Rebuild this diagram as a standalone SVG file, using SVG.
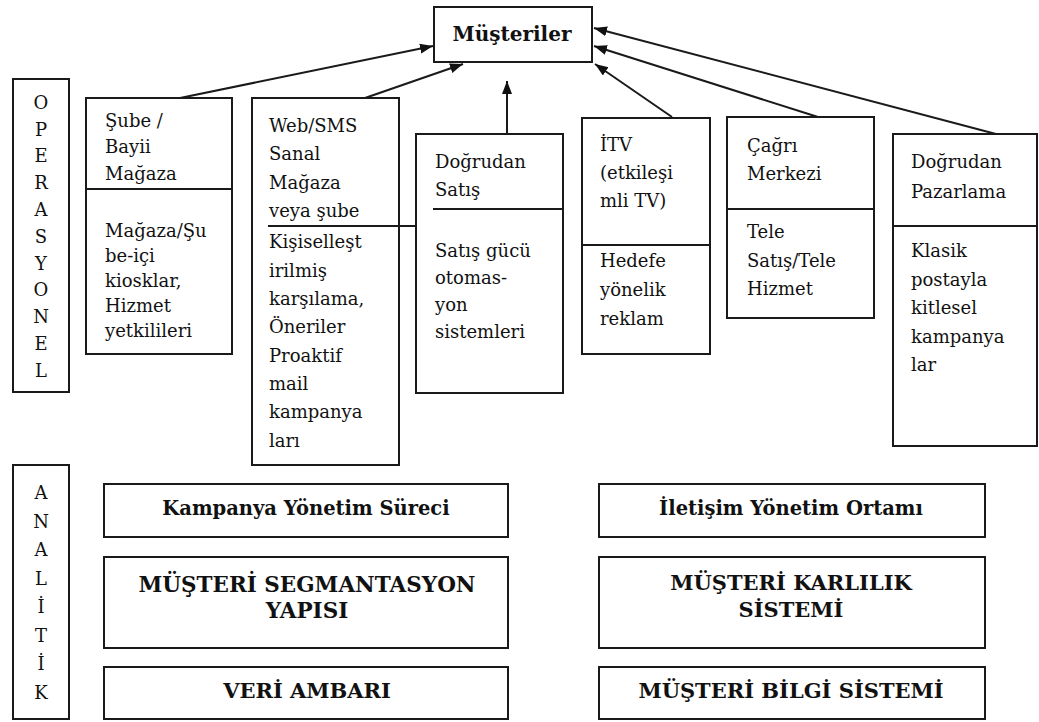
<svg xmlns="http://www.w3.org/2000/svg" width="1039" height="722" viewBox="0 0 1039 722">
<style>
.box{fill:#fff;stroke:#1a1a1a;stroke-width:2}
.ln{stroke:#1a1a1a;stroke-width:2;fill:none}
.t{font-family:"DejaVu Serif","Liberation Serif",serif;font-size:18px;fill:#111}
.v{font-family:"DejaVu Serif","Liberation Serif",serif;font-size:18px;fill:#111;text-anchor:middle}
.b{font-family:"DejaVu Serif","Liberation Serif",serif;font-weight:bold;font-size:19.5px;fill:#111;text-anchor:middle}
.bc{font-family:"DejaVu Serif","Liberation Serif",serif;font-weight:bold;font-size:21px;fill:#111;text-anchor:middle}
</style>
<defs>
<marker id="ah" markerUnits="userSpaceOnUse" markerWidth="14" markerHeight="11" refX="13" refY="5" orient="auto">
<path d="M0,0 L13,5 L0,10 z" fill="#111"/>
</marker>
</defs>
<rect width="1039" height="722" fill="#fff"/>

<g id="musteriler">
<rect class="box" x="434" y="7" width="158" height="55"/>
<text class="b" x="512" y="41" style="font-size:20px">Müşteriler</text>
</g>

<g id="operasyonel">
<rect class="box" x="13" y="79" width="56" height="313"/>
<text class="v" x="41" y="109">O</text>
<text class="v" x="41" y="136">P</text>
<text class="v" x="41" y="162">E</text>
<text class="v" x="41" y="189">R</text>
<text class="v" x="41" y="216">A</text>
<text class="v" x="41" y="243">S</text>
<text class="v" x="41" y="270">Y</text>
<text class="v" x="41" y="296">O</text>
<text class="v" x="41" y="323">N</text>
<text class="v" x="41" y="350">E</text>
<text class="v" x="41" y="377">L</text>
</g>

<g id="sube">
<rect class="box" x="86" y="98" width="146" height="256"/>
<line class="ln" x1="86" y1="189" x2="232" y2="189"/>
<text class="t" x="105" y="127">Şube /</text>
<text class="t" x="105" y="153">Bayii</text>
<text class="t" x="105" y="180">Mağaza</text>
<text class="t" x="105" y="237">Mağaza/Şu</text>
<text class="t" x="105" y="262">be-içi</text>
<text class="t" x="105" y="287">kiosklar,</text>
<text class="t" x="105" y="312">Hizmet</text>
<text class="t" x="105" y="337">yetkilileri</text>
</g>

<g id="web">
<rect class="box" x="252" y="98" width="147" height="367"/>
<text class="t" x="269" y="132">Web/SMS</text>
<text class="t" x="269" y="160">Sanal</text>
<text class="t" x="269" y="189">Mağaza</text>
<text class="t" x="269" y="217">veya şube</text>
<text class="t" x="269" y="248">Kişiselleşt</text>
<text class="t" x="269" y="277">irilmiş</text>
<text class="t" x="269" y="305">karşılama,</text>
<text class="t" x="269" y="333">Öneriler</text>
<text class="t" x="269" y="362">Proaktif</text>
<text class="t" x="269" y="390">mail</text>
<text class="t" x="269" y="418">kampanya</text>
<text class="t" x="269" y="447">ları</text>
</g>

<g id="dogrudan-satis">
<rect class="box" x="416" y="134" width="147" height="259"/>
<line class="ln" x1="433" y1="209" x2="563" y2="209"/>
<text class="t" x="435" y="168">Doğrudan</text>
<text class="t" x="435" y="196">Satış</text>
<text class="t" x="435" y="257">Satış gücü</text>
<text class="t" x="435" y="284">otomas-</text>
<text class="t" x="435" y="311">yon</text>
<text class="t" x="435" y="338">sistemleri</text>
</g>

<g id="itv">
<rect class="box" x="582" y="118" width="128" height="236"/>
<line class="ln" x1="582" y1="245" x2="710" y2="245"/>
<text class="t" x="600" y="151">İTV</text>
<text class="t" x="600" y="179">(etkileşi</text>
<text class="t" x="600" y="207">mli TV)</text>
<text class="t" x="600" y="267">Hedefe</text>
<text class="t" x="600" y="296">yönelik</text>
<text class="t" x="600" y="325">reklam</text>
</g>

<g id="cagri">
<rect class="box" x="727" y="117" width="147" height="201"/>
<line class="ln" x1="727" y1="209" x2="874" y2="209"/>
<text class="t" x="747" y="152">Çağrı</text>
<text class="t" x="747" y="180">Merkezi</text>
<text class="t" x="747" y="238">Tele</text>
<text class="t" x="747" y="267">Satış/Tele</text>
<text class="t" x="747" y="295">Hizmet</text>
</g>

<g id="dogrudan-pazarlama">
<rect class="box" x="893" y="134" width="144" height="312"/>
<line class="ln" x1="893" y1="226" x2="1037" y2="226"/>
<text class="t" x="911" y="168">Doğrudan</text>
<text class="t" x="911" y="198">Pazarlama</text>
<text class="t" x="911" y="257">Klasik</text>
<text class="t" x="911" y="286">postayla</text>
<text class="t" x="911" y="314">kitlesel</text>
<text class="t" x="911" y="343">kampanya</text>
<text class="t" x="911" y="371">lar</text>
</g>

<g id="connectors">
<line class="ln" x1="268" y1="226" x2="416" y2="226"/>
<line class="ln" x1="180" y1="98" x2="433" y2="46" marker-end="url(#ah)"/>
<line class="ln" x1="365" y1="98" x2="463" y2="64" marker-end="url(#ah)"/>
<line class="ln" x1="507" y1="134" x2="507" y2="81" marker-end="url(#ah)"/>
<line class="ln" x1="672" y1="117" x2="595" y2="64" marker-end="url(#ah)"/>
<line class="ln" x1="818" y1="117" x2="594" y2="46" marker-end="url(#ah)"/>
<line class="ln" x1="996" y1="134" x2="594" y2="28" marker-end="url(#ah)"/>
</g>

<g id="analitik">
<rect class="box" x="13" y="465" width="56" height="254"/>
<text class="v" x="41" y="499">A</text>
<text class="v" x="41" y="528">N</text>
<text class="v" x="41" y="556">A</text>
<text class="v" x="41" y="585">L</text>
<text class="v" x="41" y="613">İ</text>
<text class="v" x="41" y="642">T</text>
<text class="v" x="41" y="670">İ</text>
<text class="v" x="41" y="699">K</text>
</g>

<g id="kampanya">
<rect class="box" x="104" y="484" width="404" height="53"/>
<text class="b" x="306" y="515">Kampanya Yönetim Süreci</text>
</g>
<g id="segmantasyon">
<rect class="box" x="104" y="557" width="404" height="91"/>
<text class="bc" x="307" y="592" style="font-size:21.5px">MÜŞTERİ SEGMANTASYON</text>
<text class="bc" x="307" y="618" style="font-size:21.5px">YAPISI</text>
</g>
<g id="veri-ambari">
<rect class="box" x="104" y="667" width="404" height="52"/>
<text class="bc" x="307" y="698">VERİ AMBARI</text>
</g>
<g id="iletisim">
<rect class="box" x="599" y="484" width="386" height="53"/>
<text class="b" x="791" y="515">İletişim Yönetim Ortamı</text>
</g>
<g id="karlilik">
<rect class="box" x="599" y="557" width="386" height="91"/>
<text class="bc" x="791" y="590">MÜŞTERİ KARLILIK</text>
<text class="bc" x="791" y="617">SİSTEMİ</text>
</g>
<g id="bilgi">
<rect class="box" x="599" y="667" width="386" height="52"/>
<text class="bc" x="791" y="698">MÜŞTERİ BİLGİ SİSTEMİ</text>
</g>
</svg>
